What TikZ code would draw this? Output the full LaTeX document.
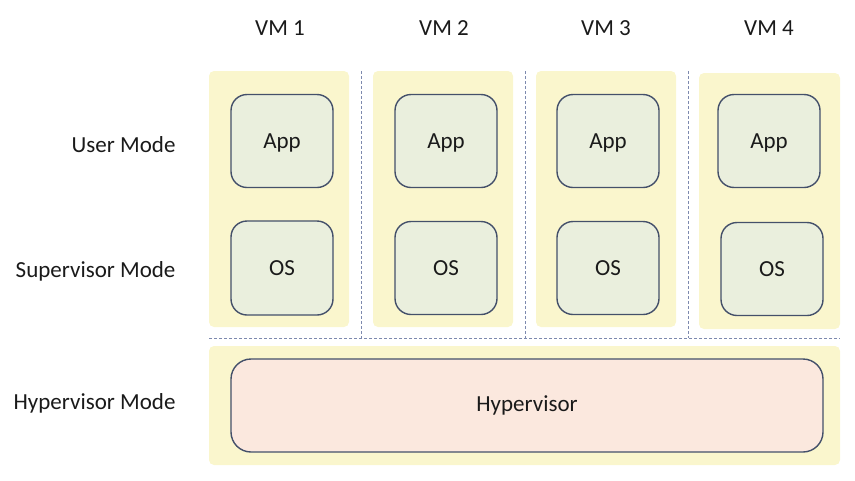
\documentclass[tikz,border=0pt]{standalone}
\usepackage{fontspec}
\setmainfont{Carlito}
\definecolor{zoneyellow}{HTML}{FAF6CD}
\definecolor{boxgreen}{HTML}{EAEFDD}
\definecolor{hyperpink}{HTML}{FBE8DE}
\definecolor{edge}{HTML}{44506A}
\definecolor{sepblue}{HTML}{7D89AE}
\definecolor{txt}{HTML}{1A1A1A}
\begin{document}
\begin{tikzpicture}[x=1pt,y=-1pt,
  every node/.style={font=\fontsize{23}{27}\selectfont, text=txt},
  zone/.style={fill=zoneyellow, draw=none, rounded corners=5pt, inner sep=0pt},
  box/.style={draw=edge, fill=boxgreen, line width=1.4pt, rounded corners=16pt, minimum width=102pt, minimum height=93pt, inner sep=0pt, text depth=0pt, yshift=-1.5pt},
  hbox/.style={draw=edge, fill=hyperpink, line width=1.4pt, rounded corners=20pt, minimum width=592pt, minimum height=93pt, inner sep=0pt},
  sep/.style={draw=sepblue, dash pattern=on 3pt off 2pt, line width=0.9pt},
  modelabel/.style={anchor=east}
]
\useasboundingbox (0,0) rectangle (855,480);
% VM zones
\node[zone, minimum width=140pt, minimum height=256pt] (z1) at (279,199) {};
\node[zone, minimum width=140pt, minimum height=256pt] (z2) at (443,199) {};
\node[zone, minimum width=140pt, minimum height=256pt] (z3) at (606,199) {};
\node[zone, minimum width=141pt, minimum height=256pt] (z4) at (769.5,201) {};
\node[zone, minimum width=631pt, minimum height=119pt] (zh) at (524.5,405.5) {};
% separators
\coordinate (s1t) at (361,71); \coordinate (s1b) at (361,338);
\coordinate (s2t) at (525,71); \coordinate (s2b) at (525,338);
\coordinate (s3t) at (688,71); \coordinate (s3b) at (688,338);
\coordinate (hl) at (209,338); \coordinate (hr) at (840,338);
\draw[sep] (s1t) -- (s1b);
\draw[sep] (s2t) -- (s2b);
\draw[sep] (s3t) -- (s3b);
\draw[sep] (hl) -- (hr);
% boxes
\node[box] (app1) at (282,139.5) {App};
\node[box] (app2) at (446,139.5) {App};
\node[box] (app3) at (608,139.5) {App};
\node[box] (app4) at (769,139.5) {App};
\node[box, minimum height=94pt] (os1) at (282,266.5) {OS};
\node[box] (os2) at (446,266.5) {OS};
\node[box] (os3) at (608,266.5) {OS};
\node[box] (os4) at (772,267.5) {OS};
\node[hbox] (hyp) at (527,405.5) {Hypervisor};
% VM labels
\node (vm1) at (280,28) {VM 1};
\node (vm2) at (444,28) {VM 2};
\node (vm3) at (606,28) {VM 3};
\node (vm4) at (769,28) {VM 4};
% mode labels
\node[modelabel] (um) at (179,145) {User Mode};
\node[modelabel] (sm) at (179,271) {Supervisor Mode};
\node[modelabel] (hm) at (179,403) {Hypervisor Mode};
\end{tikzpicture}
\end{document}
